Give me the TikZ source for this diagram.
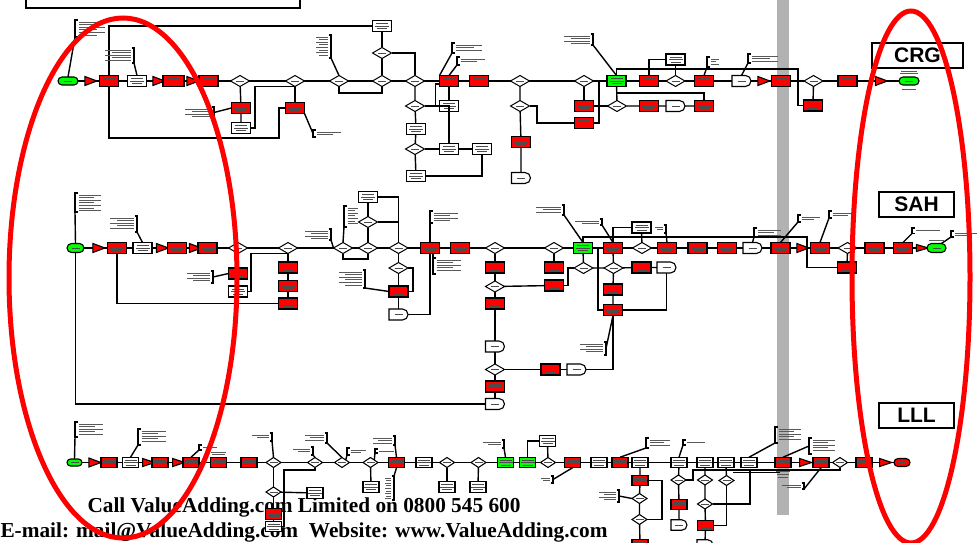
\documentclass[tikz,border=0pt]{standalone}
\usepackage{fontspec}
\setmainfont{Liberation Serif}
\newfontfamily\arialb{Liberation Sans}
\usetikzlibrary{shapes.geometric,shapes.misc}
\pgfdeclarelayer{bottom}
\pgfdeclarelayer{background}
\pgfsetlayers{bottom,background,main}
\tikzset{
 nb/.style={draw=black,line width=1.1pt,inner sep=0pt,outer sep=0pt},
 gk/.style={path picture={\draw[black!70,line width=0.3pt]
   ([xshift=-6pt,yshift=2.6pt]path picture bounding box.center)--++(12pt,0)
   ([xshift=-7pt]path picture bounding box.center)--++(14pt,0)
   ([xshift=-5pt,yshift=-2.6pt]path picture bounding box.center)--++(10pt,0);}},
 gk1/.style={path picture={\draw[black!70,line width=0.3pt]
   ([xshift=-4pt]path picture bounding box.center)--++(8pt,0);}},
 rb/.style={nb,gk,fill=red,minimum width=19pt,minimum height=11pt},
 wb/.style={nb,gk,fill=white,minimum width=19pt,minimum height=11pt},
 gb/.style={nb,gk,fill=green,minimum width=19pt,minimum height=11pt},
 dia/.style={nb,gk1,diamond,fill=white,line width=1pt,minimum width=19pt,minimum height=11pt},
 tri/.style={nb,isosceles triangle,isosceles triangle stretches,fill=red,minimum width=9pt,minimum height=12pt},
 dly/.style={nb,gk1,rounded rectangle,rounded rectangle left arc=none,fill=white,minimum width=19pt,minimum height=11pt},
 term/.style={nb,gk1,rounded rectangle,minimum width=20pt,minimum height=8pt},
 sm/.style={minimum width=16pt,minimum height=10.5pt},
 sd/.style={minimum width=15pt,minimum height=10pt},
 ln/.style={line width=1.4pt,black},
 mainln/.style={line width=1.5pt,black},
 brk/.style={line width=1.2pt,black},
 gl/.style={line width=0.35pt,black!65},
 lab/.style={draw=black,line width=1.6pt,fill=white,inner sep=0pt,minimum width=75pt,minimum height=25pt,font=\arialb\bfseries\fontsize{21}{21}\selectfont},
 foot/.style={font=\bfseries\fontsize{21.3}{24}\selectfont,anchor=base,inner sep=0pt}
}
% note with bracket on the left, text to the right
\newcommand\noteL[5]{%
 \coordinate (#1) at (#2,#3+#5);
 \coordinate (#1-m) at (#2,#3+#5/2);
 \draw[brk] (#2+2.5,#3) -- (#2,#3) -- (#2,#3+#5) -- (#2+2.5,#3+#5);
 \pgfmathtruncatemacro\nlines{max(1,(#5-0.5)/2.6)}
 \foreach \i in {1,...,\nlines}{\draw[gl] (#2+3.5,{#3+2.6*\i-0.9}) -- ++({(#4-4)*(0.7+0.3*mod(\i,2))},0);}
}
% note with bracket on the right, text to the left
\newcommand\noteR[5]{%
 \coordinate (#1) at (#2,#3+#5);
 \coordinate (#1-m) at (#2,#3+#5/2);
 \draw[brk] (#2-2.5,#3) -- (#2,#3) -- (#2,#3+#5) -- (#2-2.5,#3+#5);
 \pgfmathtruncatemacro\nlines{max(1,(#5-0.5)/2.6)}
 \foreach \i in {1,...,\nlines}{\draw[gl] (#2-3.5,{#3+2.6*\i-0.9}) -- ++({-(#4-4)*(0.7+0.3*mod(\i,2))},0);}
}
\begin{document}
\begin{tikzpicture}[x=1pt,y=-1pt]
\useasboundingbox (0,0) rectangle (978,543);
\clip (0,0) rectangle (978,543);
\begin{pgfonlayer}{bottom}
\fill[white] (0,0) rectangle (978,543);
% grey bar
\fill[black!30] (777,0) rectangle (789,515);
% footer
\node[foot] (f1) at (304,512) {Call ValueAdding.com Limited on 0800 545 600};
\node[foot] (f2) at (304,537) {E-mail: \underline{mail@ValueAdding.com}~~Website: \underline{www.ValueAdding.com}};
\end{pgfonlayer}
% title box (cut at top)
\draw[line width=2.6pt] (26,-10) rectangle (300,8);
% labels
\node[lab,minimum width=91pt] (crg) at (917.5,55.5) {CRG};
\node[lab] (sah) at (916.5,204.5) {SAH};
\node[lab] (lll) at (916.5,415.5) {LLL};

%================ ROW 1 (CRG) ================
\node[term,fill=green] (t1) at (68,81) {};
\node[tri] (r1tr1) at (88,81) {};
\node[rb] (r1a) at (109,81) {};
\node[wb] (r1b) at (137,81) {};
\node[tri] (r1tr2) at (156,81) {};
\node[rb,minimum width=21pt] (r1c) at (173.5,81) {};
\node[tri] (r1tr3) at (190,81) {};
\node[rb] (r1d) at (208.5,81) {};
\node[dia] (r1e) at (240,81) {};
\node[dia] (r1f) at (295,81) {};
\node[rb] (r1g) at (241,108) {};
\node[wb] (r1h) at (241,128) {};
\node[rb] (r1i) at (295,108) {};
\node[dia] (r1j) at (339,81) {};
\node[dia] (r1k) at (382,81) {};
\node[dia] (r1l) at (382,53) {};
\node[wb] (r1m) at (382,26) {};
\node[dia] (r1n) at (415,81) {};
\node[dia] (r1o) at (415,106) {};
\node[wb] (r1p) at (416,129) {};
\node[dia] (r1q) at (415,149) {};
\node[wb] (r1r) at (416,176) {};
\node[rb] (r1s) at (449,81) {};
\node[wb] (r1t) at (449,106) {};
\node[wb] (r1u) at (449,149) {};
\node[wb] (r1v) at (482,149) {};
\node[rb] (r1w) at (479,81) {};
\node[dia] (r1x) at (520,81) {};
\node[dia] (r1y) at (520,106) {};
\node[rb] (r1z) at (521,142) {};
\node[dly] (r1aa) at (521,178) {};
\node[dia] (r1ab) at (584,81) {};
\node[rb] (r1ac) at (584,106) {};
\node[rb] (r1ad) at (584,123) {};
\node[gb] (r1ae) at (616.5,81) {};
\node[dia] (r1af) at (617,106) {};
\node[rb] (r1ag) at (649,81) {};
\node[wb] (r1ah) at (675.5,59.5) {};
\node[dia] (r1ai) at (675.5,81) {};
\node[rb] (r1aj) at (704,81) {};
\node[dly] (r1ak) at (741.5,81) {};
\node[tri] (r1tr4) at (761,81) {};
\node[rb] (r1al) at (781,81) {};
\node[dia] (r1am) at (813.5,81) {};
\node[rb] (r1an) at (813,105.5) {};
\node[rb] (r1ao) at (847.5,81) {};
\node[tri] (r1tr5) at (878.5,81) {};
\node[term,fill=green] (t2) at (909,81) {};
\node[rb] (r1ap) at (649,106) {};
\node[dly] (r1aq) at (675.5,106) {};
\node[rb] (r1ar) at (704,106) {};

\begin{pgfonlayer}{background}
\draw[mainln] (t1.center) -- (t2.center);
\end{pgfonlayer}
\draw[ln] (r1a.north) |- (r1m.west);
\draw[ln] (r1a.south) |- (279,138) |- (r1i.west);
\draw[ln] (r1e) -- (r1g) -- (r1h);
\draw[ln] (r1h.east) -- (255,128) |- (r1f.south);
\draw[ln] (r1f) -- (r1i);
\draw[ln] (r1j.south) -- (339,93) -| (r1k.south);
\draw[ln] (r1k) -- (r1l) -- (r1m);
\draw[ln] (r1l.east) -| (r1n.north);
\draw[ln] (r1n) -- (r1o) -- (r1p) -- (r1q) -- (r1r);
\draw[ln] (r1o) -- (r1t);
\draw[ln] (r1s) -- (r1t) -- (r1u);
\draw[ln] (r1s.west) ++(0,3) -- ++(-4,0) -- ++(0,22) -| (r1t.south);
\draw[ln] (r1q) -- (r1u) -- (r1v);
\draw[ln] (r1r.east) -| (r1v.south);
\draw[ln] (r1x) -- (r1y) -- (r1z) -- (r1aa);
\draw[ln] (r1y.east) -- (537,106) |- (r1ad.west);
\draw[ln] (r1ab) -- (r1ac);
\draw[ln] (r1ac) -- (r1af);
\draw[ln] (r1ad.east) -- (599,123) -- (599,81);
\draw[ln] (r1ae) -- (r1af);
\draw[ln] (616.5,93) -| (r1ar.north);
\draw[ln] (r1af) -- (r1ap) -- (r1aq) -- (r1ar);
\draw[ln] (r1ae.north) |- (798,69) |- (r1an.west);
\draw[ln] (r1ag.north) |- (r1ah.west);
\draw[ln] (r1ai) -- (r1ah);
\draw[ln] (r1am) -- (r1an);
% row 1 notes
\noteL{n1a}{75}{20}{30}{17}
\draw[ln] (n1a) -- (t1.north);
\noteR{n1b}{134}{48}{30}{15}
\draw[ln] (n1b) -- (r1b.north);
\noteR{n1c}{214}{107}{30}{11}
\draw[ln] (n1c-m) -- (r1g.west);
\noteR{n1d}{331}{35}{16}{23}
\draw[ln] (n1d) -- (r1j.north);
\noteL{n1e}{313}{130}{28}{7}
\draw[ln] (n1e-m) -- (r1i.south east);
\noteL{n1f}{452}{43}{30}{10}
\draw[ln] (452,53) -- (r1s.north west);
\noteL{n1g}{457}{57}{28}{8}
\draw[ln] (n1g) -- (r1s.north);
\noteR{n1h}{593}{34}{30}{11}
\draw[ln] (n1h) -- (r1ae.north);
\noteL{n1i}{707}{57}{12}{10}
\draw[ln] (n1i) -- (r1aj.north);
\noteL{n1j}{748}{54}{30}{9}
\draw[ln] (n1j) -- (r1ak.north);
\draw[gl] (901,71) -- (917,71) (900,73.5) -- (918,73.5) (902,89) -- (916,89);

%================ ROW 2 (SAH) ================
\node[term,fill=green,minimum width=17pt,minimum height=9pt] (t3) at (75.5,248) {};
\node[tri] (r2tr1) at (96,248) {};
\node[rb] (r2a) at (117,248) {};
\node[wb] (r2b) at (142.5,248) {};
\node[tri] (r2tr2) at (159.5,248) {};
\node[rb] (r2c) at (177,248) {};
\node[tri] (r2tr3) at (192.5,248) {};
\node[rb] (r2d) at (207.5,248) {};
\node[dia] (r2e) at (238,248) {};
\node[dia] (r2f) at (288,248) {};
\node[rb] (r2g) at (238,273.5) {};
\node[wb] (r2h) at (238,291.5) {};
\node[rb] (r2i) at (288,267.5) {};
\node[rb] (r2j) at (288,286) {};
\node[rb] (r2k) at (288,303.5) {};
\node[dia] (r2l) at (343,248) {};
\node[dia] (r2m) at (368,248) {};
\node[dia] (r2n) at (368,222) {};
\node[wb] (r2o) at (368,197) {};
\node[dia] (r2p) at (398.5,248) {};
\node[dia] (r2q) at (398.5,268) {};
\node[rb] (r2r) at (398.5,291.5) {};
\node[dly] (r2s) at (398.5,314.5) {};
\node[rb] (r2t) at (430,248) {};
\node[rb] (r2u) at (460,248) {};
\node[dia] (r2v) at (495,248) {};
\node[rb] (r2w) at (495,267.5) {};
\node[dia] (r2x) at (495,286.5) {};
\node[rb] (r2y) at (495,303.5) {};
\node[dly] (r2z) at (495,346.5) {};
\node[dia] (r2aa) at (495,369.5) {};
\node[rb] (r2ab) at (495,386.5) {};
\node[dly] (r2ac) at (495,404) {};
\node[rb] (r2ad) at (550.5,369.5) {};
\node[dly] (r2ae) at (576.5,369.5) {};
\node[dia] (r2af) at (554,248) {};
\node[rb] (r2ag) at (554,267.5) {};
\node[rb] (r2ah) at (554,285.5) {};
\node[gb] (r2ai) at (583,248) {};
\node[dia] (r2aj) at (583.5,268) {};
\node[rb] (r2ak) at (613,248) {};
\node[dia] (r2al) at (613.5,268) {};
\node[rb] (r2am) at (613,289.5) {};
\node[rb] (r2an) at (613,310) {};
\node[wb] (r2ao) at (641.5,227.5) {};
\node[dia] (r2ap) at (642,248) {};
\node[rb] (r2aq) at (667,248) {};
\node[rb] (r2ar) at (697.5,248) {};
\node[rb] (r2as) at (727,248) {};
\node[dly] (r2at) at (752.5,248) {};
\node[rb] (r2au) at (780.5,248) {};
\node[tri] (r2tr4) at (800,248) {};
\node[rb] (r2av) at (820,248) {};
\node[dia] (r2aw) at (847.5,248) {};
\node[rb] (r2ax) at (874.5,248) {};
\node[rb] (r2ay) at (903,248) {};
\node[tri,minimum width=7pt] (r2tr5) at (919,248) {};
\node[term,fill=green,minimum width=19pt,minimum height=9pt] (t4) at (936.5,248) {};
\node[rb] (r2az) at (847,267.5) {};
\node[rb] (r2ba) at (641.5,267.5) {};
\node[dly] (r2bb) at (666.5,267.5) {};

\begin{pgfonlayer}{background}
\draw[mainln] (t3.center) -- (t4.center);
\end{pgfonlayer}
\draw[ln] (t3.south) |- (r2ac.west);
\draw[ln] (r2a.south) |- (r2k.west);
\draw[ln] (r2e) -- (r2g) -- (r2h);
\draw[ln] (r2h.east) -- (251,291.5) |- (r2f.south);
\draw[ln] (r2f) -- (r2i) -- (r2j) -- (r2k);
\draw[ln] (r2l.south) -- (343,259) -| (r2m.south);
\draw[ln] (r2m) -- (r2n) -- (r2o);
\draw[ln] (r2o.east) -| (r2p.north);
\draw[ln] (r2n.east) -- (398.5,222);
\draw[ln] (r2p) -- (r2q) -- (r2r) -- (r2s);
\draw[ln] (r2q.east) -- (413,268) |- (r2r.east);
\draw[ln] (r2s.east) -| (r2t.south);
\draw[ln] (r2v) -- (r2w) -- (r2x) -- (r2y) -- (r2z) -- (r2aa) -- (r2ab) -- (r2ac);
\draw[ln] (r2aa) -- (r2ad) -- (r2ae);
\draw[ln] (r2ae.east) -| (r2an.south);
\draw[ln] (r2x) -- (r2ah);
\draw[ln] (r2af) -- (r2ag);
\draw[ln] (r2ah.east) -- (568,285.5) |- (r2aj.west);
\draw[ln] (r2ai) -- (r2aj) -- (r2al);
\draw[ln] (r2ak) -- (r2al) -- (r2am) -- (r2an);
\draw[ln] (r2al) -- (r2ba) -- (r2bb);
\draw[ln] (598,248) |- (r2an.west);
\draw[ln] (r2an.east) -| (r2bb.south);
\draw[ln] (r2ak.north) |- (r2ao.west);
\draw[ln] (r2ap) -- (r2ao);
\draw[ln] (r2ai.north) |- (807,237) |- (r2az.west);
\draw[ln] (r2aw) -- (r2az);
% row 2 notes
\noteL{n2a}{75}{193}{26}{19}
\draw[ln] (75,212) -- (t3.north);
\noteR{n2b}{137}{216}{28}{16}
\draw[ln] (n2b) -- (r2b.north);
\noteR{n2c}{213}{271}{27}{12}
\draw[ln] (n2c-m) -- (r2g.west);
\noteR{n2d}{331}{229}{27}{11}
\draw[ln] (n2d) -- (r2l.west);
\noteL{n2e}{344}{206}{14}{21}
\draw[ln] (n2e) -- (r2l.north);
\noteR{n2f}{365}{270}{27}{18}
\draw[ln] (n2f) -- (r2r.west);
\noteL{n2g}{430}{211}{28}{12}
\draw[ln] (n2g) -- (r2t.north);
\noteL{n2h}{433}{258}{28}{16}
\draw[ln] (433,258) -- (433,253.5);
\noteR{n2i}{564}{205}{29}{10}
\draw[ln] (n2i) -- (r2ai.north);
\noteR{n2j}{602}{219}{28}{6}
\draw[ln] (n2j) -- (r2ak.north);
\noteR{n2k}{606}{342}{27}{13}
\draw[ln] (n2k-m) -- (r2an.south);
\noteR{n2l}{666}{225}{12}{8}
\draw[ln] (n2l) -- (r2aq.north);
\noteL{n2m}{754}{228}{27}{9}
\draw[ln] (n2m) -- (r2at.north);
\noteL{n2n}{798}{215}{22}{7}
\draw[ln] (n2n) -- (r2au.north);
\noteL{n2o}{829}{211}{26}{7}
\draw[ln] (n2o) -- (r2av.north);
\noteL{n2p}{912}{228}{28}{5.5}
\draw[ln] (n2p) -- (r2ay.north);
\noteL{n2q}{951}{231}{26}{6}
\draw[ln] (n2q) -- (t4.north east);
\draw[gl] (929,240) -- (944,240);

%================ ROW 3 (LLL) ================
\node[term,fill=green,minimum width=15pt,minimum height=7pt] (t5) at (74.5,462.5) {};
\node[tri] (r3tr1) at (92,462.5) {};
\node[rb,sm] (r3a) at (109,462.5) {};
\node[wb,sm] (r3b) at (130.5,462.5) {};
\node[tri,minimum width=8pt] (r3tr2) at (145.5,462.5) {};
\node[rb,sm] (r3c) at (160,462.5) {};
\node[tri,minimum width=8pt] (r3tr3) at (175.5,462.5) {};
\node[rb,sm] (r3d) at (191,462.5) {};
\node[rb,sm] (r3e) at (218.5,462.5) {};
\node[rb,sm] (r3f) at (249,462.5) {};
\node[dia,sd] (r3g) at (273.5,462.5) {};
\node[dia,sd] (r3h) at (315,462.5) {};
\node[dia,sd] (r3i) at (273.5,492) {};
\node[wb,sm] (r3j) at (315,493) {};
\node[rb,sm] (r3k) at (273.5,514) {};
\node[wb,sm] (r3l) at (273.5,526.5) {};
\node[dia,sd] (r3m) at (342,462.5) {};
\node[dia,sd] (r3n) at (370.5,462.5) {};
\node[wb,sm] (r3o) at (371,487) {};
\node[rb,sm] (r3p) at (396.5,462.5) {};
\node[wb,sm] (r3q) at (424,462.5) {};
\node[dia,sd] (r3r) at (447,462.5) {};
\node[wb,sm] (r3s) at (447,487) {};
\node[dia,sd] (r3t) at (478.5,462.5) {};
\node[wb,sm] (r3u) at (478,487) {};
\node[gb,sm] (r3v) at (505.5,462.5) {};
\node[gb,sm] (r3w) at (527.5,462.5) {};
\node[wb,sm] (r3x) at (547.5,441) {};
\node[dia,sd] (r3y) at (548,462.5) {};
\node[rb,sm] (r3z) at (572.5,462.5) {};
\node[wb,sm] (r3aa) at (599,462.5) {};
\node[rb,sm] (r3ab) at (620,462.5) {};
\node[wb,sm] (r3ac) at (640,462.5) {};
\node[rb,sm] (r3ad) at (640,480.5) {};
\node[dia,sd] (r3ae) at (639.5,498.5) {};
\node[dia,sd] (r3af) at (639.5,519.5) {};
\node[rb,sm] (r3ag) at (640,545) {};
\node[wb,sm] (r3ah) at (679,462.5) {};
\node[dia,sd] (r3ai) at (678.5,480) {};
\node[rb,sm] (r3aj) at (679,504.5) {};
\node[dly,sm] (r3ak) at (679,525) {};
\node[wb,sm] (r3al) at (705,462.5) {};
\node[dia,sd] (r3am) at (705,480) {};
\node[dia,sd] (r3an) at (705,504) {};
\node[rb,sm] (r3ao) at (705.5,525.5) {};
\node[dly,sm] (r3ap) at (705,545) {};
\node[wb,sm] (r3aq) at (726,462.5) {};
\node[dia,sd] (r3ar) at (726.5,480.5) {};
\node[wb,sm] (r3as) at (749,462.5) {};
\node[rb,sm] (r3at) at (783,462.5) {};
\node[tri,minimum width=8pt] (r3tr4) at (802.5,462.5) {};
\node[rb,sm] (r3au) at (821,462.5) {};
\node[dia,sd] (r3av) at (840,462.5) {};
\node[rb,sm] (r3aw) at (864,462.5) {};
\node[tri,minimum width=8pt] (r3tr5) at (882.5,462.5) {};
\node[term,fill=red,minimum width=16pt,minimum height=8pt] (t6) at (902,462.5) {};

\begin{pgfonlayer}{background}
\draw[mainln] (t5.center) -- (t6.center);
\end{pgfonlayer}
\draw[ln] (r3g) -- (r3i) -- (r3k) -- (r3l);
\draw[ln] (r3i) -- (r3j);
\draw[ln] (r3h.south) -- (315,470) -| (284,526.5) -- (r3l.east);
\draw[ln] (r3n) -- (r3o);
\draw[ln] (r3r) -- (r3s);
\draw[ln] (r3t) -- (r3u);
\draw[ln] (r3w.north) |- (r3x.west);
\draw[ln] (r3y) -- (r3x);
\draw[ln] (r3ac) -- (r3ad) -- (r3ae) -- (r3af) -- (r3ag);
\draw[ln] (r3ad.east) -- (662,480.5) |- (r3af.east);
\draw[ln] (r3ah) -- (r3ai) -- (r3aj) -- (r3ak);
\draw[ln] (r3al) -- (r3am) -- (r3an) -- (r3ao) -- (r3ap);
\draw[ln] (r3aq) -- (r3ar);
\draw[ln] (r3ar.south) |- (r3ao.east);
\draw[ln] (r3ai.east) -- (693,480) |- (840,470) -- (r3av.south);
\draw[ln] (r3an.east) -- (750,504) -- (750,470);
\draw[ln] (733,472.5) -- (780,472.5);
% row 3 notes
\noteL{n3a}{75}{422}{28}{15}
\draw[ln] (n3a) -- (t5.north);
\noteL{n3b}{138}{429}{28}{16}
\draw[ln] (n3b) -- (r3b.north);
\noteL{n3c}{199}{445}{18}{5}
\draw[ln] (n3c) -- (r3d.north);
\draw[gl] (211,452) -- (226,452) (212,454.5) -- (225,454.5);
\noteR{n3d}{272}{433}{21}{8}
\draw[ln] (n3d) -- (r3g.north);
\noteR{n3e}{313}{447}{21}{8}
\draw[ln] (n3e) -- (r3h.north);
\noteR{n3f}{327}{433}{23}{10}
\draw[ln] (n3f) -- (r3m.north);
\noteL{n3g}{347}{448}{19}{7}
\draw[ln] (n3g) -- (r3m.north east);
\noteL{n3h}{375}{449}{19}{4}
\draw[ln] (n3h) -- (r3n.north east);
\noteR{n3i}{395}{436}{23}{9}
\draw[ln] (n3i) -- (r3p.north);
\noteR{n3j}{394}{476}{10}{24}
\draw[ln] (394,476) -- (r3p.south);
\noteR{n3k}{504}{440}{22}{8}
\draw[ln] (n3k) -- (r3v.north);
\noteR{n3l}{553}{476}{13}{7}
\draw[ln] (n3l-m) -- (r3z.south);
\noteR{n3m}{619}{490}{21}{12}
\draw[ln] (n3m-m) -- (r3ae.west);
\noteL{n3n}{646}{438}{24}{10}
\draw[ln] (n3n) -- (r3ab.north);
\noteL{n3o}{683}{440}{22}{5}
\draw[ln] (n3o) -- (r3ah.north);
\noteL{n3p}{775}{427}{26}{16}
\draw[ln] (n3p) -- (r3as.north);
\noteL{n3q}{809}{438}{26}{16}
\draw[ln] (n3q-m) -- (r3at.north);
\noteR{n3r}{804}{483}{23}{6}
\draw[ln] (n3r) -- (r3au.south);
\draw[gl] (776,471) -- (790,471) (777,474) -- (789,474) (778,477) -- (788,477);

% red ellipses
\draw[red,line width=5pt] (123,278) ellipse [x radius=114, y radius=260];
\draw[red,line width=5pt] (911,277) ellipse [x radius=59, y radius=266];
\end{tikzpicture}
\end{document}
